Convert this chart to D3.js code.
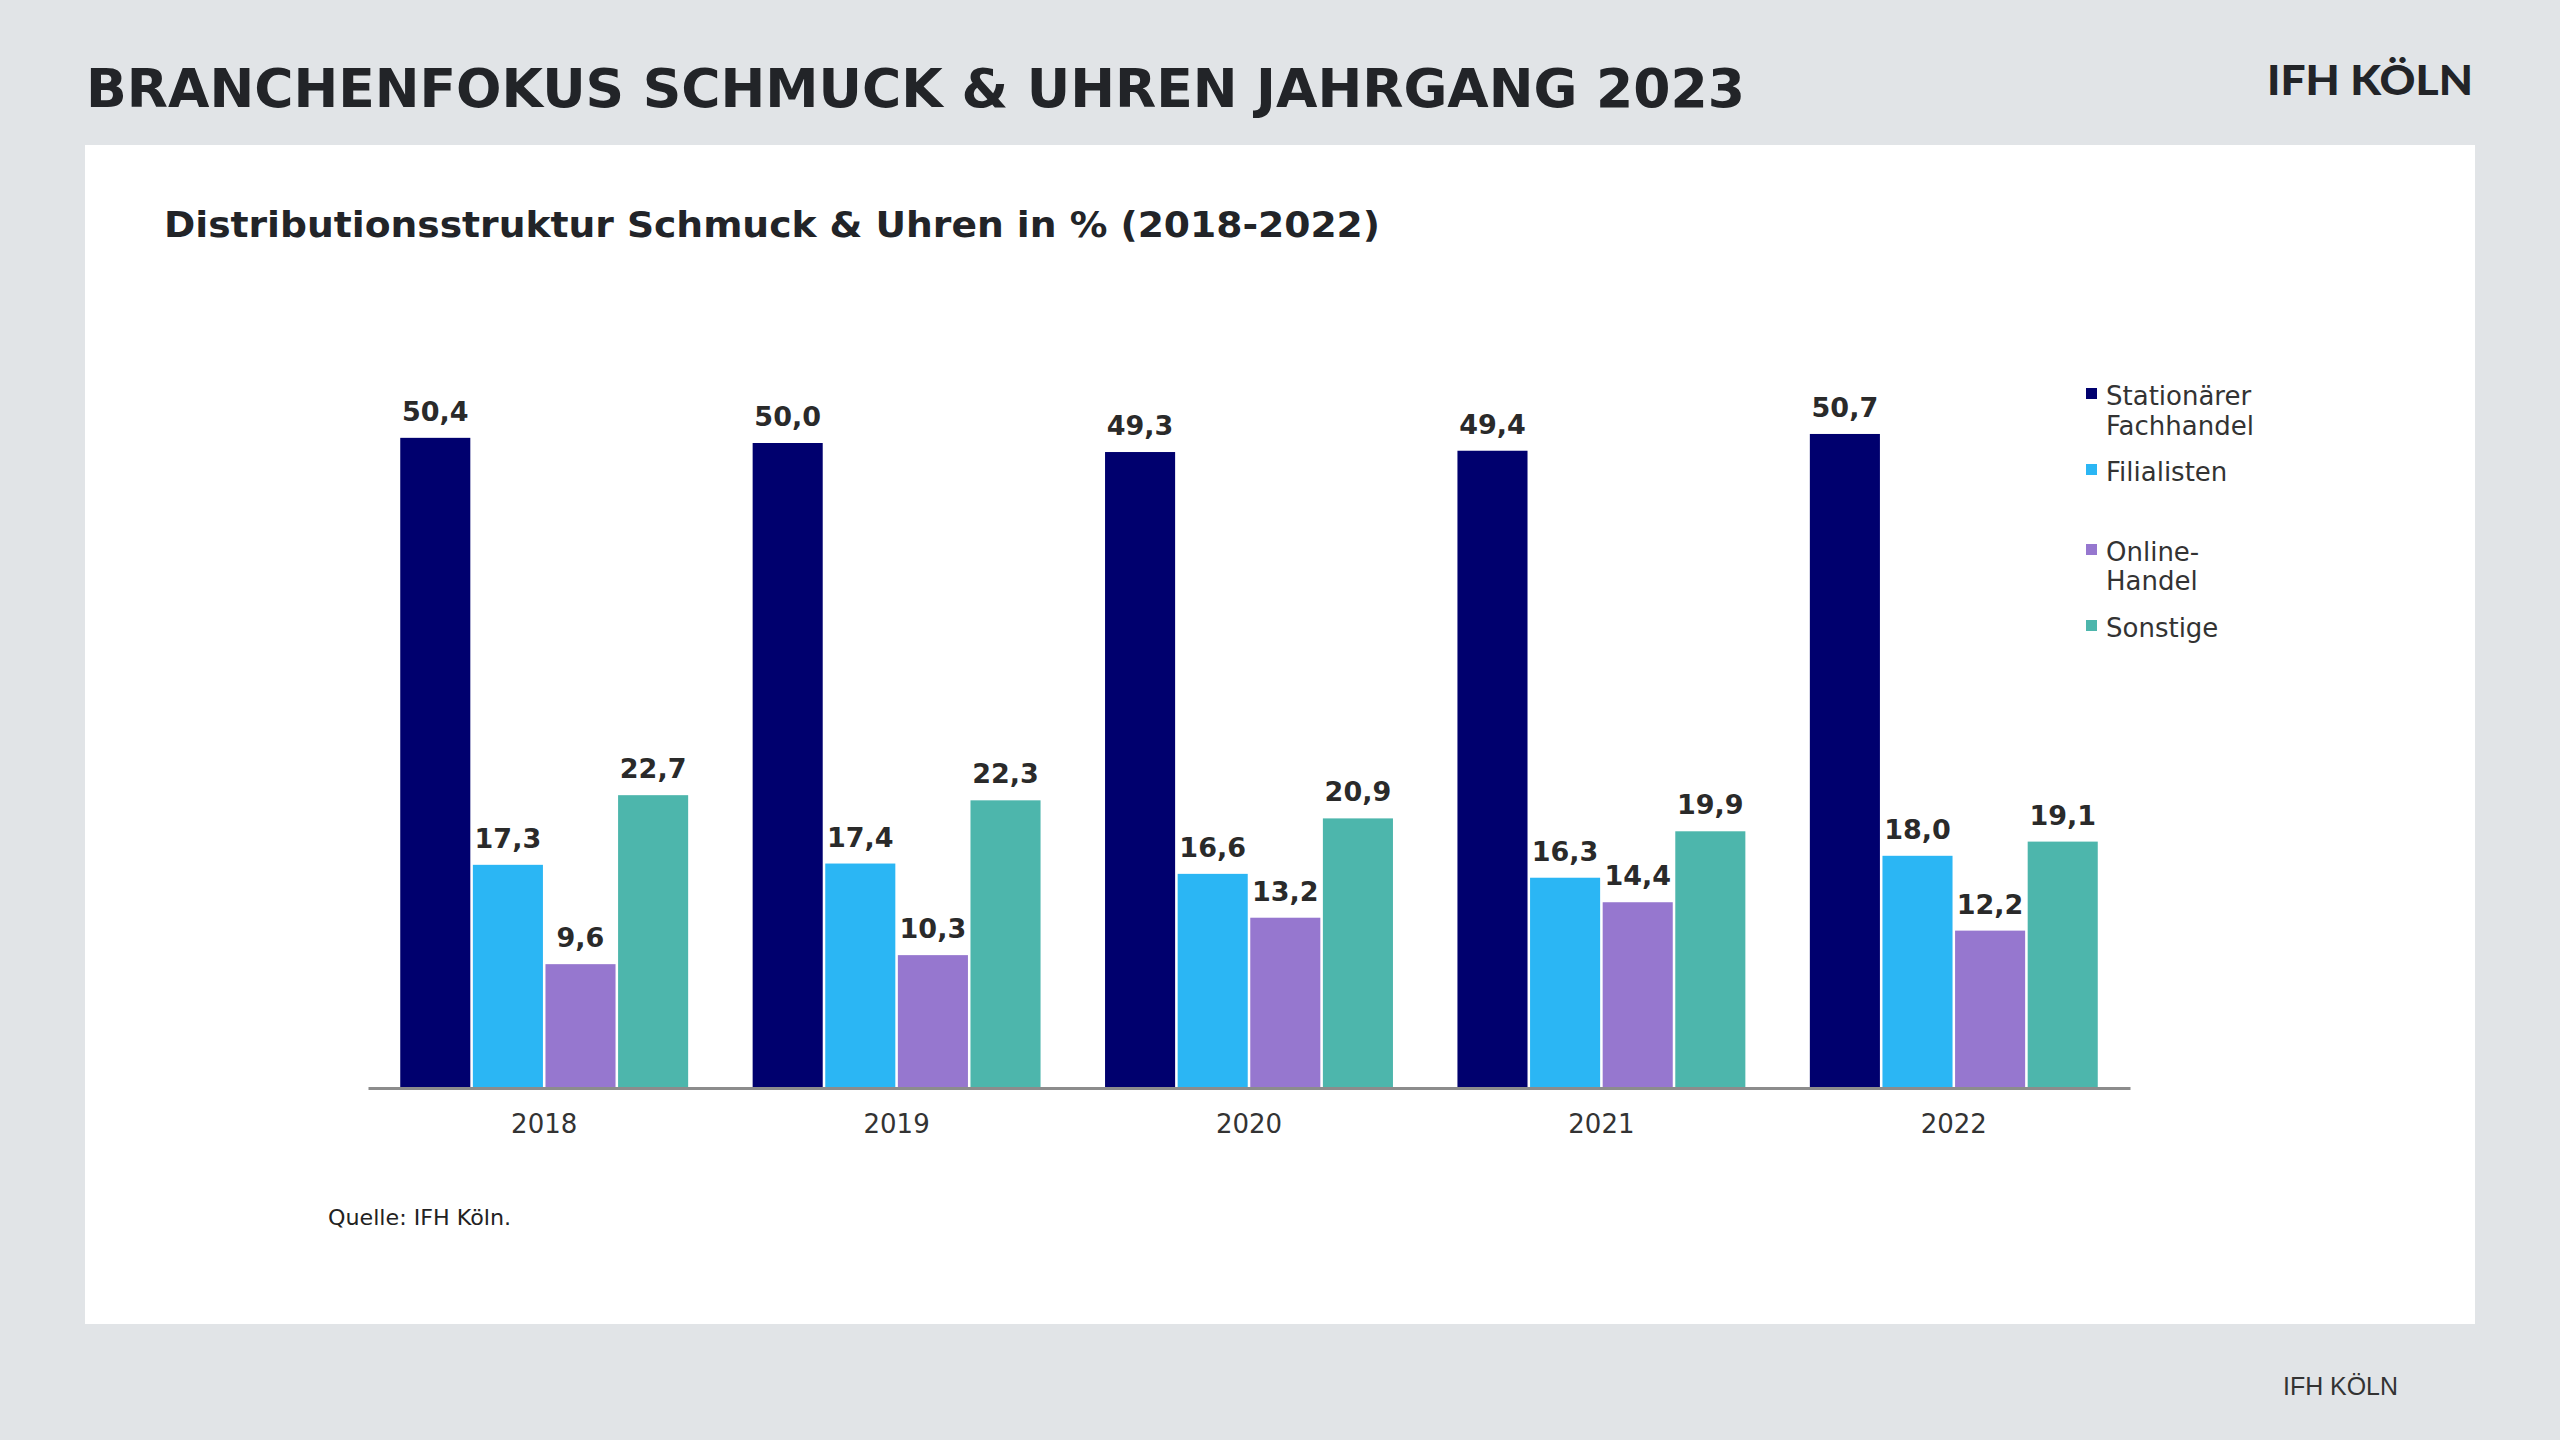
<!DOCTYPE html>
<html>
<head>
<meta charset="utf-8">
<script src="https://cdn.jsdelivr.net/npm/d3@7"></script>
<style>
  html, body { margin: 0; padding: 0; background: #E1E4E7; }
  svg { display: block; }
</style>
</head>
<body>
<svg id="chart" width="2560" height="1440"></svg>
<script>
// ---- data ----
const years = ["2018", "2019", "2020", "2021", "2022"];
const seriesNames = ["Stationärer Fachhandel", "Filialisten", "Online-Handel", "Sonstige"];
const stationaer = [50.4, 50.0, 49.3, 49.4, 50.7];
const filialisten = [17.3, 17.4, 16.6, 16.3, 18.0];
const online = [9.6, 10.3, 13.2, 14.4, 12.2];
const sonstige = [22.7, 22.3, 20.9, 19.9, 19.1];
const legendLines = [["Stationärer", "Fachhandel"], ["Filialisten"], ["Online-", "Handel"], ["Sonstige"]];
const colors = ["#00006E", "#2BB6F4", "#9677CF", "#4DB6AC"];

const seriesValues = [stationaer, filialisten, online, sonstige];
const fmt = v => v.toFixed(1).replace(".", ",");

const svg = d3.select("#chart");
const FONT = "'DejaVu Sans', Verdana, sans-serif";

// background + panel
svg.append("rect").attr("x", 0).attr("y", 0).attr("width", 2560).attr("height", 1440).attr("fill", "#E1E4E7");
svg.append("rect").attr("x", 85).attr("y", 145).attr("width", 2390).attr("height", 1179).attr("fill", "#FFFFFF");

// title
svg.append("text").attr("x", 86).attr("y", 107)
  .attr("font-family", FONT).attr("font-weight", "bold").attr("font-size", 54)
  .attr("fill", "#222428")
  .attr("textLength", 1659).attr("lengthAdjust", "spacingAndGlyphs")
  .text("BRANCHENFOKUS SCHMUCK & UHREN JAHRGANG 2023");

// logo
svg.append("text").attr("x", 2267).attr("y", 95)
  .attr("font-family", "Lato, Inter, sans-serif").attr("font-weight", 900).attr("font-size", 41)
  .attr("fill", "#222428")
  .attr("textLength", 206).attr("lengthAdjust", "spacingAndGlyphs")
  .text("IFH KÖLN");

// subtitle
svg.append("text").attr("x", 164).attr("y", 237)
  .attr("font-family", FONT).attr("font-weight", "bold").attr("font-size", 36)
  .attr("fill", "#222428")
  .attr("textLength", 1216).attr("lengthAdjust", "spacingAndGlyphs")
  .text("Distributionsstruktur Schmuck & Uhren in % (2018-2022)");

// scales
const x0 = d3.scaleBand().domain(years).range([368, 2130]).paddingInner(0.183).paddingOuter(0.0915);
const x1 = d3.scaleBand().domain(seriesNames).range([0, x0.bandwidth()]).paddingInner(0.035);
const y = d3.scaleLinear().domain([0, 60]).range([1088, 314]);

// bars
const groups = svg.append("g").selectAll("g").data(years).join("g")
  .attr("transform", d => `translate(${x0(d)},0)`);

groups.each(function(year, yi) {
  const g = d3.select(this);
  seriesNames.forEach((s, si) => {
    const v = seriesValues[si][yi];
    g.append("rect")
      .attr("x", x1(s)).attr("y", y(v))
      .attr("width", x1.bandwidth()).attr("height", y(0) - y(v))
      .attr("fill", colors[si]);
    g.append("text")
      .attr("x", x1(s) + x1.bandwidth() / 2).attr("y", y(v) - 17)
      .attr("text-anchor", "middle")
      .attr("font-family", FONT).attr("font-weight", "bold").attr("font-size", 27)
      .attr("fill", "#2A2A2A")
      .text(fmt(v));
  });
});

// x axis
const xAxis = d3.axisBottom(x0).tickSize(0).tickPadding(0);
const ax = svg.append("g").attr("transform", `translate(0,${y(0)})`).call(xAxis);
ax.select(".domain").attr("stroke", "#8C8C8C").attr("stroke-width", 3);
ax.selectAll(".tick text")
  .attr("y", 45).attr("dy", 0)
  .attr("font-family", FONT).attr("font-size", 26).attr("fill", "#333333");

// legend
const legendBaselines = [[405, 435], [481], [561, 590], [637]];
const lg = svg.append("g");
legendLines.forEach((lines, i) => {
  lg.append("rect").attr("x", 2086).attr("y", legendBaselines[i][0] - 17)
    .attr("width", 11).attr("height", 11).attr("fill", colors[i]);
  lines.forEach((ln, j) => {
    lg.append("text").attr("x", 2106).attr("y", legendBaselines[i][j])
      .attr("font-family", FONT).attr("font-size", 26).attr("fill", "#333333")
      .text(ln);
  });
});

// source
svg.append("text").attr("x", 328).attr("y", 1225)
  .attr("font-family", FONT).attr("font-size", 22).attr("fill", "#222222")
  .attr("textLength", 183).attr("lengthAdjust", "spacingAndGlyphs")
  .text("Quelle: IFH Köln.");

// footer
svg.append("text").attr("x", 2283).attr("y", 1395)
  .attr("font-family", "'Liberation Sans', Arial, sans-serif").attr("font-size", 25).attr("fill", "#333333")
  .attr("textLength", 115).attr("lengthAdjust", "spacingAndGlyphs")
  .text("IFH KÖLN");
</script>
</body>
</html>
